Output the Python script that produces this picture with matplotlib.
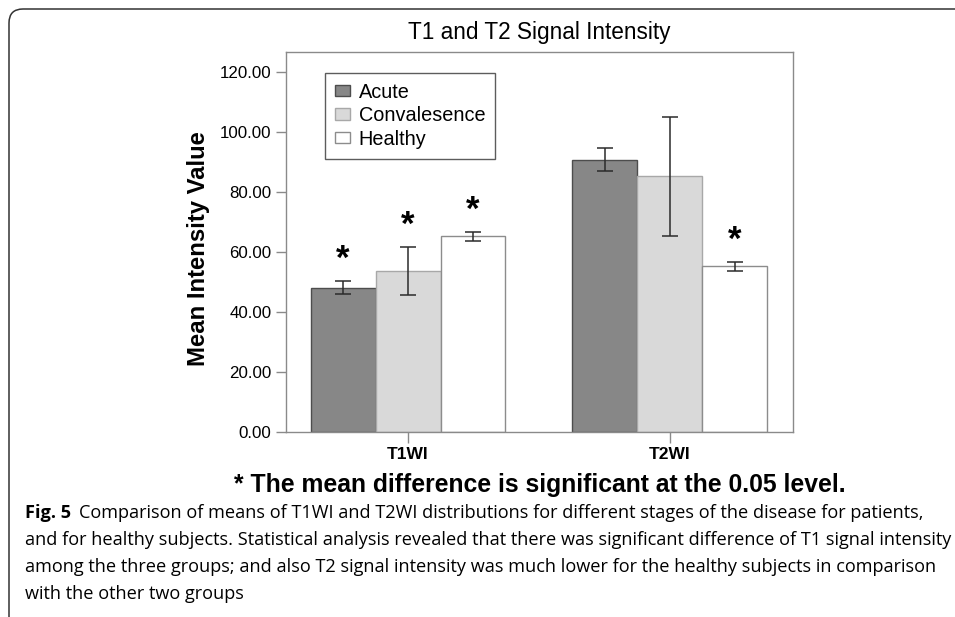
import matplotlib
matplotlib.use('Agg')
import matplotlib.pyplot as plt
from matplotlib.patches import FancyBboxPatch
from matplotlib.transforms import IdentityTransform
import numpy as np

# values (mean +/- error bar half length)
groups = ['T1WI', 'T2WI']
stages = ['Acute', 'Convalesence', 'Healthy']
acute_mean = [48.1, 90.8]
acute_err = [2.1, 3.8]
conv_mean = [53.7, 85.3]
conv_err = [7.9, 19.8]
healthy_mean = [65.3, 55.3]
healthy_err = [1.5, 1.5]
# which bars carry the significance star
acute_sig = [True, False]
conv_sig = [True, False]
healthy_sig = [True, True]
yticks = [0, 20, 40, 60, 80, 100, 120]

title = 'T1 and T2 Signal Intensity'
ylabel = 'Mean Intensity Value'
footnote = '* The mean difference is significant at the 0.05 level.'
fig_label = 'Fig. 5'
caption = [
    'Comparison of means of T1WI and T2WI distributions for different stages of the disease for patients,',
    'and for healthy subjects. Statistical analysis revealed that there was significant difference of T1 signal intensity',
    'among the three groups; and also T2 signal intensity was much lower for the healthy subjects in comparison',
    'with the other two groups',
]

plt.rcParams['font.family'] = ['Liberation Sans', 'DejaVu Sans']
cap_font = ['Open Sans', 'DejaVu Sans']

W, H = 955, 617
fig = plt.figure(figsize=(W / 100, H / 100), dpi=100)
fig.patch.set_facecolor('white')

# outer frame with rounded top-left corner (pixel coords)
frame = FancyBboxPatch((9, -60), 1200, H - 9 + 60, boxstyle='round,pad=0,rounding_size=14',
                       transform=IdentityTransform(), fill=False, ec='#333333', lw=1.1)
fig.add_artist(frame)

ax = fig.add_axes([286 / W, 1 - 432 / H, (793 - 286) / W, (432 - 52) / H])

x = np.arange(len(groups))
bw = 0.248
series = [
    (acute_mean, acute_err, acute_sig, '#878787', '#4d4d4d'),
    (conv_mean, conv_err, conv_sig, '#d9d9d9', '#a8a8a8'),
    (healthy_mean, healthy_err, healthy_sig, 'white', '#8c8c8c'),
]
handles = []
for i, (m, e, sig, fc, ec) in enumerate(series):
    pos = x + (i - 1) * bw
    b = ax.bar(pos, m, bw, color=fc, edgecolor=ec, linewidth=1.0, label=stages[i], zorder=2)
    handles.append(b)
    ax.errorbar(pos, m, yerr=e, fmt='none', ecolor='#2b2b2b', elinewidth=1.1,
                capsize=5.5, capthick=1.1, zorder=3)
    for p, mv, ev, s in zip(pos, m, e, sig):
        if s:
            ax.text(p, mv + ev + 7.2, '*', ha='center', va='center', fontsize=25,
                    fontweight='bold', color='black', zorder=4)

ax.set_xlim(-0.466, 1.47)
ax.set_ylim(0, 126.7)
ax.set_yticks(yticks)
ax.set_yticklabels(['%.2f' % v for v in yticks], fontsize=12.2)
ax.set_xticks(x)
ax.set_xticklabels(groups, fontsize=12.5, fontweight='bold')
for s in ax.spines.values():
    s.set_color('#8a8a8a')
    s.set_linewidth(1.0)
ax.tick_params(axis='y', length=7.5, width=1.0, color='#8a8a8a', pad=3)
ax.tick_params(axis='x', length=8, width=1.0, color='#8a8a8a', pad=3)

leg = ax.legend(handles=handles, loc='upper left', bbox_to_anchor=(0.077, 0.945),
                borderaxespad=0, fontsize=14.3, frameon=True, fancybox=False,
                handlelength=0.75, handleheight=0.5, handletextpad=0.45,
                labelspacing=0.22, borderpad=0.5)
leg.get_frame().set_edgecolor('#333333')
leg.get_frame().set_linewidth(1.0)

cx = (286 + 793) / 2 / W
fig.text(cx, 1 - 33 / H, title, ha='center', va='center', fontsize=16.3)
fig.text(198 / W, 1 - 249 / H, ylabel, ha='center', va='center', rotation=90,
         fontsize=17.2, fontweight='bold')
fig.text(cx, 1 - 485 / H, footnote, ha='center', va='center', fontsize=17.8, fontweight='bold')

# caption: fit font size so the widest line fills the frame width
renderer = fig.canvas.get_renderer()
probe = fig.text(0, 0, caption[1], fontsize=12, family=cap_font)
w12 = probe.get_window_extent(renderer).width
probe.remove()
cap_size = 12 * (948 - 25) / w12

line_y = [513, 540, 567, 594]
lab = fig.text(25 / W, 1 - line_y[0] / H, fig_label, ha='left', va='center',
               fontsize=cap_size, fontweight='bold', family=cap_font)
lw_px = lab.get_window_extent(renderer).width
fig.text((25 + lw_px + 0.6 * cap_size) / W, 1 - line_y[0] / H, caption[0], ha='left',
         va='center', fontsize=cap_size, family=cap_font)
for line, yy in zip(caption[1:], line_y[1:]):
    fig.text(25 / W, 1 - yy / H, line, ha='left', va='center', fontsize=cap_size, family=cap_font)

fig.savefig('out.png', dpi=100)
